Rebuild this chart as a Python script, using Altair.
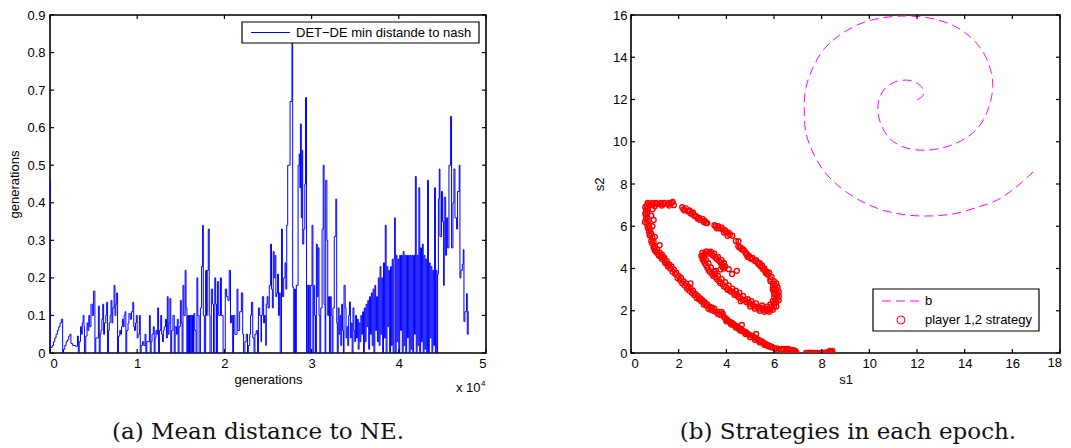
import altair as alt
import pandas as pd

# ---------------- data: panel (a) ----------------
STEPS = [
    (0, 0.46), (40, 0.015), (250, 0.02), (400, 0.03), (550, 0.04), (700, 0.05), (850, 0.06), (1000, 0.07),
    (1150, 0.08), (1300, 0.09), (1450, 0.0), (1550, 0.01), (1700, 0.02), (1850, 0.03), (2000, 0.035),
    (2150, 0.045), (2300, 0.05), (2400, 0.025), (2600, 0.02), (2900, 0.018), (3150, 0.045), (3250, 0.0),
    (3350, 0.03), (3500, 0.07), (3600, 0.05), (3700, 0.08), (3800, 0.1), (3900, 0.07), (3950, 0.0),
    (4100, 0.045), (4250, 0.08), (4350, 0.06), (4450, 0.1), (4550, 0.07), (4700, 0.13), (4850, 0.1),
    (5000, 0.165), (5150, 0.0),
    (5250, 0.04), (5400, 0.04), (5550, 0.125), (5650, 0.0), (5750, 0.05), (5850, 0.06), (5950, 0.09),
    (6050, 0.13), (6150, 0.05), (6250, 0.08), (6400, 0.1), (6500, 0.135), (6600, 0.0), (6700, 0.06),
    (6800, 0.08), (6900, 0.1), (7000, 0.14), (7100, 0.08), (7200, 0.12), (7350, 0.18), (7450, 0.1),
    (7550, 0.13), (7650, 0.16), (7750, 0.0), (7850, 0.045), (8000, 0.06), (8100, 0.05), (8200, 0.07),
    (8300, 0.09), (8400, 0.07), (8500, 0.1), (8600, 0.11), (8700, 0.0), (8800, 0.06), (8950, 0.08),
    (9050, 0.105), (9200, 0.09), (9350, 0.11), (9500, 0.135), (9600, 0.07), (9700, 0.06), (9800, 0.08),
    (9900, 0.1), (10000, 0.04), (10100, 0.05), (10250, 0.1), (10350, 0.0),
    (10450, 0.02), (10600, 0.03), (10750, 0.02), (10900, 0.05), (11000, 0.0), (11100, 0.03), (11250, 0.03),
    (11400, 0.1), (11500, 0.0), (11600, 0.03), (11700, 0.05), (11850, 0.07), (11950, 0.0), (12050, 0.04),
    (12150, 0.06), (12250, 0.05), (12350, 0.12), (12450, 0.0), (12550, 0.06), (12700, 0.1), (12800, 0.05),
    (12900, 0.03), (13000, 0.06), (13100, 0.07), (13250, 0.09), (13350, 0.04), (13450, 0.15), (13550, 0.05),
    (13650, 0.08), (13750, 0.145), (13850, 0.0),
    (13950, 0.06), (14100, 0.1), (14250, 0.0), (14350, 0.07), (14500, 0.05), (14600, 0.09), (14700, 0.0),
    (14800, 0.07), (14950, 0.14), (15050, 0.08), (15150, 0.0), (15250, 0.18), (15350, 0.1), (15500, 0.22),
    (15600, 0.12), (15700, 0.0), (15750, 0.1), (15850, 0.0), (15900, 0.1), (16000, 0.0), (16050, 0.1),
    (16150, 0.0), (16200, 0.1), (16300, 0.0), (16350, 0.1), (16450, 0.0), (16500, 0.105), (16600, 0.06),
    (16750, 0.0), (16850, 0.2), (16950, 0.1), (17100, 0.0), (17250, 0.12), (17380, 0.23), (17500, 0.34),
    (17580, 0.1), (17700, 0.0), (17850, 0.22), (17950, 0.1), (18030, 0.22), (18150, 0.33), (18260, 0.1),
    (18350, 0.0), (18500, 0.17), (18650, 0.13), (18750, 0.0), (18900, 0.2), (19000, 0.13), (19100, 0.0),
    (19200, 0.19), (19350, 0.1), (19550, 0.2), (19650, 0.1), (19850, 0.0), (20100, 0.17), (20250, 0.15),
    (20400, 0.14), (20550, 0.22), (20700, 0.08), (20800, 0.1), (20950, 0.0), (21050, 0.1), (21200, 0.05),
    (21450, 0.17), (21550, 0.06), (21750, 0.11), (21950, 0.16), (22100, 0.05), (22200, 0.0), (22350, 0.03),
    (22500, 0.05), (22650, 0.0), (22750, 0.02), (22900, 0.05), (23000, 0.1), (23100, 0.135), (23250, 0.04),
    (23400, 0.0), (23500, 0.05), (23650, 0.06), (23800, 0.0), (23900, 0.12), (24050, 0.1), (24200, 0.03),
    (24250, 0.1), (24350, 0.15), (24500, 0.08), (24600, 0.1), (24750, 0.02), (24800, 0.13), (24900, 0.15),
    (25000, 0.12), (25150, 0.18), (25300, 0.29), (25400, 0.17), (25500, 0.12),
    (25600, 0.27), (25700, 0.2), (25800, 0.26), (25900, 0.15), (26000, 0.16), (26100, 0.21), (26200, 0.1),
    (26300, 0.16), (26400, 0.0), (26550, 0.33), (26650, 0.15), (26800, 0.2), (26950, 0.24), (27050, 0.17),
    (27150, 0.34), (27260, 0.5), (27530, 0.67), (27750, 0.83), (27830, 0.175), (27950, 0.0), (28050, 0.17),
    (28150, 0.0), (28250, 0.18), (28450, 0.5), (28580, 0.53), (28660, 0.44), (28720, 0.61), (28820, 0.36),
    (28900, 0.54), (28980, 0.29), (29100, 0.33), (29220, 0.45), (29300, 0.68), (29420, 0.0), (29500, 0.18),
    (29650, 0.0), (29700, 0.18), (29800, 0.0), (29900, 0.18), (30050, 0.34), (30150, 0.0),
    (30250, 0.18), (30350, 0.1), (30450, 0.0), (30550, 0.29), (30650, 0.15), (30750, 0.28), (30850, 0.1),
    (30950, 0.0), (31050, 0.12), (31200, 0.33), (31330, 0.5), (31430, 0.13), (31550, 0.0), (31620, 0.46),
    (31750, 0.3), (31850, 0.1), (31950, 0.15), (32050, 0.0), (32150, 0.15), (32250, 0.1), (32350, 0.0),
    (32450, 0.12), (32600, 0.31), (32780, 0.41), (32880, 0.08), (32950, 0.0), (33050, 0.12), (33150, 0.05),
    (33250, 0.1), (33350, 0.02), (33450, 0.13), (33550, 0.06), (33650, 0.0), (33720, 0.18), (33850, 0.12),
    (33950, 0.04), (34050, 0.07), (34150, 0.02), (34250, 0.1), (34350, 0.136), (34450, 0.04), (34550, 0.08),
    (34650, 0.0), (34750, 0.12), (34850, 0.06), (34950, 0.03), (35050, 0.1), (35150, 0.04), (35250, 0.09),
    (35350, 0.01), (35450, 0.08), (35550, 0.03), (35650, 0.1), (35750, 0.05), (35850, 0.11), (35950, 0.0),
    (36050, 0.12), (36150, 0.03), (36250, 0.13), (36350, 0.07), (36450, 0.14), (36550, 0.01), (36650, 0.15),
    (36750, 0.05), (36850, 0.16), (36950, 0.02), (37050, 0.17), (37150, 0.0), (37250, 0.18),
    (37350, 0.06), (37450, 0.15), (37550, 0.03), (37650, 0.2), (37750, 0.02), (37850, 0.23), (37950, 0.05),
    (38050, 0.2), (38150, 0.0), (38250, 0.24), (38350, 0.04), (38450, 0.34), (38550, 0.0), (38650, 0.23),
    (38750, 0.07), (38850, 0.22), (38950, 0.0), (39050, 0.23), (39150, 0.02), (39250, 0.25), (39350, 0.0),
    (39450, 0.25), (39520, 0.36), (39600, 0.0), (39700, 0.26), (39800, 0.03), (39900, 0.25), (40000, 0.0),
    (40100, 0.26), (40200, 0.06), (40300, 0.26), (40400, 0.0), (40500, 0.27), (40600, 0.02), (40700, 0.26),
    (40800, 0.0), (40900, 0.26), (41000, 0.04), (41100, 0.26), (41200, 0.0), (41300, 0.26), (41400, 0.01),
    (41500, 0.26), (41600, 0.0), (41700, 0.26), (41800, 0.05), (41900, 0.47), (42000, 0.0), (42100, 0.26),
    (42200, 0.02), (42300, 0.44), (42400, 0.0), (42500, 0.28), (42600, 0.03), (42700, 0.29), (42800, 0.0),
    (42900, 0.26), (43000, 0.01), (43100, 0.25), (43200, 0.0), (43300, 0.46), (43400, 0.0), (43500, 0.24),
    (43600, 0.04), (43700, 0.23), (43800, 0.0), (43900, 0.22), (44000, 0.02), (44100, 0.44), (44200, 0.0),
    (44280, 0.22), (44380, 0.0),
    (44450, 0.21), (44540, 0.41), (44640, 0.49), (44720, 0.31), (44900, 0.43), (45020, 0.35), (45140, 0.18),
    (45210, 0.415), (45370, 0.26), (45480, 0.36), (45600, 0.28), (45750, 0.5), (45940, 0.63), (46050, 0.28),
    (46210, 0.4), (46320, 0.49), (46440, 0.36), (46630, 0.33), (46740, 0.43), (46930, 0.5), (47010, 0.2),
    (47120, 0.22), (47280, 0.236), (47390, 0.275), (47470, 0.084), (47580, 0.11), (47700, 0.11),
    (47770, 0.158), (47850, 0.05), (47960, 0.11), (48010, 0.11),
]
GEN = [g for g, _ in STEPS]
DIST = [d for _, d in STEPS]

LEFT_XTICKS = [0, 10000, 20000, 30000, 40000, 50000]
LEFT_YTICKS = [0, 0.1, 0.2, 0.3, 0.4, 0.5, 0.6, 0.7, 0.8, 0.9]

# ---------------- data: panel (b) ----------------
SPIRAL_S1 = [12.01, 12.25, 12.22, 11.94, 11.53, 11.05, 10.64, 10.40, 10.36, 10.50, 10.84, 11.46, 12.36,
             13.32, 14.15, 14.70, 15.04, 15.18, 15.04, 14.70, 14.21, 13.60, 12.77, 11.67, 10.71, 9.74,
             8.78, 8.09, 7.61, 7.33, 7.27, 7.33, 7.61, 8.09, 8.78, 9.61, 10.57, 11.67, 12.63, 13.60,
             14.56, 15.38, 16.07, 16.62, 16.97]
SPIRAL_S2 = [11.99, 12.19, 12.54, 12.82, 12.92, 12.82, 12.50, 11.96, 11.42, 10.80, 10.17, 9.74, 9.60,
             9.79, 10.25, 10.87, 11.73, 12.66, 13.59, 14.37, 14.99, 15.46, 15.80, 15.95, 15.89, 15.64,
             15.07, 14.37, 13.44, 12.50, 11.57, 10.49, 9.55, 8.62, 7.84, 7.22, 6.76, 6.52, 6.49, 6.60,
             6.91, 7.25, 7.77, 8.31, 8.67]

PLAYER = [
    (8.45, 0.1), (8.4, 0.05), (8.35, 0.1), (8.3, 0.05), (8.2, 0.03), (8.1, 0.0), (8.0, 0.02), (7.9, 0.0),
    (7.8, 0.0), (7.7, 0.01), (7.6, 0.0), (7.5, 0.02), (7.4, 0.0), (7.35, 0.0),
    (6.95, 0.0), (6.9, 0.05), (6.85, 0.12), (6.75, 0.15), (6.6, 0.2), (6.5, 0.2), (6.4, 0.17), (6.2, 0.2),
    (6.05, 0.2), (5.95, 0.25), (5.8, 0.35), (5.7, 0.4), (5.6, 0.45), (5.5, 0.55), (5.4, 0.6), (5.3, 0.65),
    (5.25, 0.9), (5.2, 0.72), (5.1, 0.8), (5.0, 0.85), (4.9, 0.9), (4.8, 1.0), (4.7, 1.05), (4.65, 1.33),
    (4.6, 1.15), (4.5, 1.2), (4.4, 1.3), (4.3, 1.35), (4.2, 1.45), (4.1, 1.5), (4.0, 1.6), (3.9, 1.7),
    (3.85, 1.85), (3.8, 1.95), (3.7, 1.95), (3.5, 2.1), (3.4, 2.15), (3.3, 2.2), (3.2, 2.3), (3.1, 2.4),
    (3.05, 2.3), (3.0, 2.5), (2.9, 2.6), (2.8, 2.7), (2.7, 2.8), (2.6, 2.95), (2.5, 3.05), (2.5, 3.3),
    (2.4, 3.15), (2.3, 3.3), (2.2, 3.4), (2.1, 3.55), (2.0, 3.65), (1.9, 3.8), (1.8, 3.95), (1.7, 4.1),
    (1.6, 4.2), (1.5, 4.35), (1.4, 4.5), (1.35, 4.55), (1.3, 4.65), (1.2, 4.75), (1.1, 4.9), (1.05, 4.8),
    (1.0, 5.05), (0.95, 5.25), (0.9, 5.45), (0.85, 5.65), (0.8, 5.85), (0.75, 6.05), (0.7, 6.25),
    (0.68, 6.45), (0.68, 6.65), (0.7, 6.85), (0.8, 7.0), (0.95, 7.05), (1.1, 7.05), (1.25, 7.1),
    (1.4, 7.1), (1.55, 7.05), (1.7, 7.1), (1.8, 7.0), (0.9, 6.0), (0.85, 6.5), (1.0, 5.5), (1.2, 5.1),
    (0.9, 6.8), (0.95, 6.3),
    (2.15, 6.9), (2.3, 6.85), (2.45, 6.75), (2.6, 6.65), (2.7, 6.5), (2.85, 6.4), (3.0, 6.35), (3.1, 6.25),
    (3.2, 6.15), (3.5, 6.05), (3.65, 6.0), (3.8, 5.95), (3.95, 5.8), (4.1, 5.7), (4.25, 5.55), (4.4, 5.3),
    (4.5, 5.05), (4.51, 5.29), (4.6, 5.0), (4.75, 4.85), (4.85, 4.7), (4.95, 4.6), (5.1, 4.5),
    (5.25, 4.4), (5.4, 4.25), (5.5, 4.15), (5.6, 4.0), (5.7, 3.85), (5.8, 3.8), (5.9, 3.6), (6.0, 3.4),
    (6.05, 3.2), (6.1, 3.0), (6.15, 2.8), (6.15, 2.6), (6.1, 2.4), (6.0, 2.2), (5.85, 2.05), (5.7, 2.0),
    (5.55, 2.05), (5.4, 2.1), (5.2, 2.2), (5.0, 2.3), (4.85, 2.4), (4.7, 2.5), (4.5, 2.65), (4.35, 2.75),
    (4.2, 2.9), (4.05, 3.0), (3.9, 3.15), (3.75, 3.3), (3.6, 3.5), (3.45, 3.65), (3.3, 3.85), (3.2, 4.05),
    (3.1, 4.25), (3.0, 4.45), (2.95, 4.6), (3.0, 4.75), (3.15, 4.8), (3.3, 4.75), (3.45, 4.6), (3.6, 4.45),
    (3.75, 4.3), (3.85, 4.15), (3.9, 4.0), (3.75, 3.95), (3.55, 3.89), (4.1, 3.97), (4.24, 3.74),
    (4.44, 3.89), (6.0, 2.6), (6.05, 2.9), (5.95, 3.1), (5.6, 2.1), (4.6, 2.45), (3.5, 3.75),
    # second pass along the same bands
    (3.65, 1.85), (3.45, 2.0), (3.25, 2.1), (3.15, 2.25), (2.95, 2.45), (2.75, 2.6), (2.55, 2.85),
    (2.35, 3.05), (2.15, 3.3), (1.95, 3.55), (1.75, 3.85), (1.55, 4.1), (1.45, 4.25), (1.25, 4.55),
    (1.15, 4.65), (1.0, 4.85), (0.95, 5.0), (0.85, 5.3), (0.8, 5.55), (0.75, 5.75), (0.7, 5.95),
    (0.65, 6.15), (0.63, 6.35), (0.62, 6.55), (0.63, 6.75), (0.65, 6.95), (0.75, 7.05), (0.9, 7.1),
    (1.05, 7.1), (1.2, 7.05), (1.35, 7.05), (1.6, 7.1), (1.75, 7.15),
    (5.9, 0.3), (5.75, 0.32), (5.65, 0.42), (5.55, 0.48), (5.45, 0.52), (5.35, 0.6), (5.15, 0.75),
    (4.95, 0.85), (4.85, 0.95), (4.75, 1.0), (4.55, 1.1), (4.45, 1.25), (4.35, 1.3), (4.25, 1.4),
    (4.15, 1.45), (4.05, 1.55), (3.95, 1.65), (6.3, 0.15), (6.55, 0.12), (6.7, 0.1), (6.8, 0.05),
    (2.2, 6.8), (2.4, 6.7), (2.55, 6.6), (2.75, 6.45), (2.9, 6.3), (3.05, 6.2), (3.55, 6.0), (3.7, 5.9),
    (3.85, 5.85), (4.0, 5.7), (4.15, 5.6), (4.55, 5.0), (4.7, 4.9), (4.8, 4.75), (4.9, 4.55), (5.05, 4.45),
    (5.2, 4.35), (5.35, 4.2), (5.45, 4.1), (5.55, 3.95), (5.65, 3.8), (5.75, 3.7), (5.85, 3.5), (5.95, 3.3),
    (6.0, 3.0), (6.05, 2.75), (6.05, 2.5), (6.0, 2.35), (5.9, 2.2), (5.8, 2.1), (5.65, 2.1), (5.45, 2.15),
    (5.3, 2.2), (5.1, 2.3), (4.95, 2.4), (4.8, 2.5), (4.6, 2.6), (4.45, 2.75), (4.3, 2.85), (4.15, 2.95),
    (4.0, 3.1), (3.85, 3.25), (3.7, 3.4), (3.55, 3.6), (3.4, 3.75), (3.25, 3.95), (3.15, 4.15),
    (3.05, 4.35), (3.05, 4.6), (3.1, 4.7), (3.25, 4.7), (3.4, 4.65), (3.55, 4.5), (3.7, 4.35), (3.8, 4.2),
    (3.85, 4.05),
    # third pass: band edges
    (0.58, 6.2), (0.6, 6.6), (0.6, 6.9), (0.7, 7.1), (0.72, 5.9), (0.78, 5.6), (0.88, 5.2), (0.98, 4.95),
    (1.08, 4.75), (1.18, 4.6), (1.3, 4.45), (1.42, 4.3), (1.52, 4.2), (1.65, 4.0), (1.85, 3.75),
    (2.05, 3.45), (2.25, 3.2), (2.45, 2.95), (2.65, 2.75), (2.85, 2.55), (3.05, 2.4), (3.35, 2.05),
    (3.55, 1.95), (3.75, 1.8), (4.0, 1.5), (4.2, 1.35), (4.4, 1.2), (4.6, 1.05), (4.8, 0.9), (5.0, 0.75),
    (5.2, 0.62), (5.4, 0.5), (5.6, 0.38), (5.85, 0.28), (6.1, 0.22), (6.35, 0.2), (6.6, 0.15), (6.9, 0.1),
    (1.0, 6.95), (1.3, 6.98), (1.6, 6.98), (2.25, 6.75), (2.5, 6.6), (2.65, 6.5), (2.8, 6.35), (3.15, 6.15),
    (3.6, 5.9), (3.9, 5.7), (4.05, 5.55), (4.65, 4.9), (4.85, 4.65), (5.0, 4.5), (5.3, 4.3), (5.5, 4.05),
    (5.7, 3.75), (5.85, 3.4), (5.95, 3.0), (6.0, 2.8), (6.2, 2.7), (6.2, 2.9), (6.15, 3.1), (6.1, 3.3),
    (6.2, 2.5), (6.1, 2.2), (5.95, 2.05), (5.8, 1.95), (5.6, 1.95), (5.4, 2.0), (5.2, 2.1), (5.0, 2.2),
    (3.0, 4.6), (3.05, 4.5), (3.15, 4.4), (3.2, 4.8), (3.35, 4.8), (3.5, 4.7), (3.65, 4.55), (3.8, 4.4),
    (3.9, 4.25), (3.95, 4.1), (3.25, 4.25), (3.35, 4.05), (3.5, 3.85), (3.65, 3.65), (3.8, 3.5),
    (3.95, 3.35), (4.1, 3.2), (4.25, 3.05), (4.4, 2.95), (4.55, 2.85), (4.7, 2.7), (4.9, 2.55),
    (5.05, 2.45), (5.25, 2.35), (5.5, 2.25), (5.7, 2.2), (5.85, 2.3), (5.95, 2.45),
]
P_S1 = [p[0] for p in PLAYER]
P_S2 = [p[1] for p in PLAYER]

RIGHT_XTICKS = [0, 2, 4, 6, 8, 10, 12, 14, 16, 18]
RIGHT_YTICKS = [0, 2, 4, 6, 8, 10, 12, 14, 16]

# ---------------- layout constants ----------------
WA, WB, H = 436, 429, 338
TK = 4
FONT = "Liberation Sans"
SERIF = "DejaVu Serif"
CAPSIZE = 23


def one(**kw):
    return pd.DataFrame([kw])


def ticks(xvals, yvals, xscale, yscale, xtitle, ytitle, xaxis, yaxis, w):
    dx = pd.DataFrame({"v": xvals})
    dy = pd.DataFrame({"v": yvals})
    xe = alt.X("v:Q", scale=xscale, title=xtitle, axis=xaxis)
    ye = alt.Y("v:Q", scale=yscale, title=ytitle, axis=yaxis)
    base = dict(color="black", strokeWidth=1.2)
    return [
        alt.Chart(dx).mark_rule(**base).encode(x=xe, y=alt.value(H), y2=alt.value(H - TK)),
        alt.Chart(dx).mark_rule(**base).encode(x=xe, y=alt.value(0), y2=alt.value(TK)),
        alt.Chart(dy).mark_rule(**base).encode(y=ye, x=alt.value(0), x2=alt.value(TK)),
        alt.Chart(dy).mark_rule(**base).encode(y=ye, x=alt.value(w), x2=alt.value(w - TK)),
    ]


# ---------------- panel (a) ----------------
xs_a = alt.Scale(domain=[0, 50000], nice=False, zero=False)
ys_a = alt.Scale(domain=[0, 0.9], nice=False)
xax_a = alt.Axis(values=LEFT_XTICKS, labelExpr="format(datum.value/10000, 'd')",
                 labelPadding=4, titlePadding=3, grid=False)
yax_a = alt.Axis(values=LEFT_YTICKS, labelExpr="datum.value == 0 ? '0' : format(datum.value, '.1f')",
                 labelPadding=5, titlePadding=5, grid=False)
df_a = pd.DataFrame({"gen": GEN, "dist": DIST})

line_a = alt.Chart(df_a).mark_line(interpolate="step-after", color="#0000ff", strokeWidth=1, clip=True).encode(
    x=alt.X("gen:Q", scale=xs_a, title="generations", axis=xax_a),
    y=alt.Y("dist:Q", scale=ys_a, title="generations", axis=yax_a),
)

leg_a = [
    alt.Chart(one(a=1)).mark_rect(fill="white", stroke="black", strokeWidth=1.2).encode(
        x=alt.value(192), x2=alt.value(429), y=alt.value(7), y2=alt.value(28)),
    alt.Chart(one(a=1)).mark_rule(color="#0000ff", strokeWidth=1).encode(
        x=alt.value(201), x2=alt.value(240), y=alt.value(17.5)),
    alt.Chart(one(t="DET\u2212DE min distande to nash")).mark_text(
        align="left", baseline="middle", font=FONT, fontSize=13, color="black").encode(
        text="t:N", x=alt.value(246), y=alt.value(18)),
]

extra_a = [
    alt.Chart(one(t="x 10")).mark_text(align="left", baseline="alphabetic", font=FONT, fontSize=13,
                                       color="black").encode(text="t:N", x=alt.value(406), y=alt.value(H + 39)),
    alt.Chart(one(t="4")).mark_text(align="left", baseline="alphabetic", font=FONT, fontSize=8,
                                    color="black").encode(text="t:N", x=alt.value(431), y=alt.value(H + 33)),
    alt.Chart(one(t="(a) Mean distance to NE.")).mark_text(
        align="center", baseline="alphabetic", font=SERIF, fontSize=CAPSIZE, color="#111111").encode(
        text="t:N", x=alt.value(208), y=alt.value(H + 86)),
]

panel_a = alt.layer(line_a,
                    *ticks(LEFT_XTICKS, LEFT_YTICKS, xs_a, ys_a, "generations", "generations",
                           xax_a, yax_a, WA),
                    *leg_a, *extra_a).properties(width=WA, height=H)

# ---------------- panel (b) ----------------
xs_b = alt.Scale(domain=[0, 18], nice=False, zero=False)
ys_b = alt.Scale(domain=[0, 16], nice=False, zero=False)
df_sp = pd.DataFrame({"i": list(range(len(SPIRAL_S1))), "s1": SPIRAL_S1, "s2": SPIRAL_S2})
df_p = pd.DataFrame({"s1": P_S1, "s2": P_S2})

# the last x label ("18") sits at the page edge; it is drawn right-aligned below
xax_b = alt.Axis(values=RIGHT_XTICKS, labelExpr="datum.value == 18 ? '' : datum.label", format="d",
                 labelPadding=4, titlePadding=3, grid=False)
yax_b = alt.Axis(values=RIGHT_YTICKS, format="d", labelPadding=4, titlePadding=6, grid=False)

spiral = alt.Chart(df_sp).mark_line(color="#ff00ff", strokeWidth=1, strokeDash=[9, 5],
                                    interpolate="catmull-rom", clip=True).encode(
    x=alt.X("s1:Q", scale=xs_b, title="s1", axis=xax_b),
    y=alt.Y("s2:Q", scale=ys_b, title="s2", axis=yax_b),
    order="i:Q",
)
pts = alt.Chart(df_p).mark_point(shape="circle", filled=False, color="#ff0000", size=24,
                                 strokeWidth=1.4, opacity=1, clip=True).encode(
    x=alt.X("s1:Q", scale=xs_b, title="s1", axis=xax_b),
    y=alt.Y("s2:Q", scale=ys_b, title="s2", axis=yax_b),
)

leg_b = [
    alt.Chart(one(a=1)).mark_rect(fill="white", stroke="black", strokeWidth=1.2).encode(
        x=alt.value(242), x2=alt.value(408), y=alt.value(H - 64), y2=alt.value(H - 22)),
    alt.Chart(one(a=1)).mark_rule(color="#ff00ff", strokeWidth=1, strokeDash=[9, 5]).encode(
        x=alt.value(251), x2=alt.value(291), y=alt.value(H - 52)),
    alt.Chart(one(t="b")).mark_text(align="left", baseline="middle", font=FONT, fontSize=13,
                                    color="black").encode(text="t:N", x=alt.value(294), y=alt.value(H - 52)),
    alt.Chart(one(a=1)).mark_point(shape="circle", filled=False, color="#ff0000", size=64,
                                   strokeWidth=1, opacity=1).encode(x=alt.value(270), y=alt.value(H - 33)),
    alt.Chart(one(t="player 1,2 strategy")).mark_text(
        align="left", baseline="middle", font=FONT, fontSize=13, color="black").encode(
        text="t:N", x=alt.value(294), y=alt.value(H - 33)),
]

last_b = alt.Chart(one(t="18")).mark_text(align="right", baseline="top", font=FONT, fontSize=13,
                                          color="black").encode(text="t:N", x=alt.value(WB + 2),
                                                                y=alt.value(H + 4))

cap_b = alt.Chart(one(t="(b) Strategies in each epoch.")).mark_text(
    align="center", baseline="alphabetic", font=SERIF, fontSize=CAPSIZE, color="#111111").encode(
    text="t:N", x=alt.value(217), y=alt.value(H + 86))

panel_b = alt.layer(spiral, pts,
                    *ticks(RIGHT_XTICKS, RIGHT_YTICKS, xs_b, ys_b, "s1", "s2", xax_b, yax_b, WB),
                    *leg_b, last_b, cap_b).properties(width=WB, height=H)

chart = alt.hconcat(panel_a, panel_b, spacing=145, bounds="flush").properties(
    padding={"left": 0, "top": 0, "right": 0, "bottom": 0},
    background="white",
).configure_axis(
    domain=False, ticks=False, grid=False,
    labelFont=FONT, labelFontSize=13, labelColor="black",
    titleFont=FONT, titleFontSize=13, titleFontWeight="normal", titleColor="black",
).configure_view(stroke="black", strokeWidth=1.6)

chart.save("out.html", embed_options={"renderer": "svg", "actions": False})
